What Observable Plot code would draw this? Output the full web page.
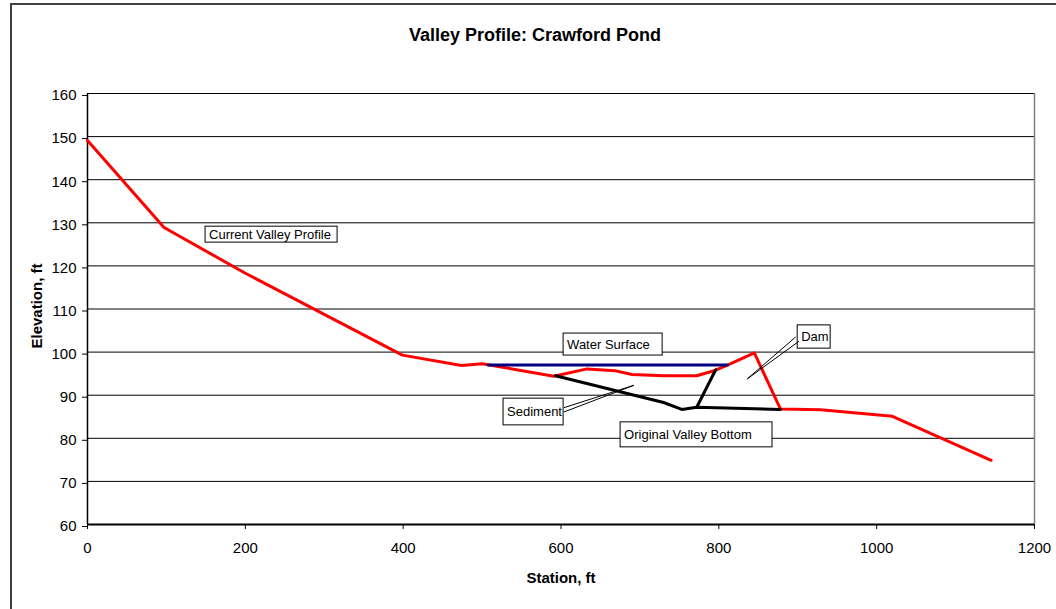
<!DOCTYPE html>
<html>
<head>
<meta charset="utf-8">
<script src="https://cdn.jsdelivr.net/npm/d3@7"></script>
<script src="https://cdn.jsdelivr.net/npm/@observablehq/plot@0.6"></script>
<style>
html, body { margin: 0; padding: 0; background: #fff; }
#wrap { position: relative; width: 1056px; height: 609px; overflow: hidden; font-family: "Liberation Sans", Arial, sans-serif; }
#frame { position: absolute; left: 10px; top: 3px; width: 1200px; height: 800px; border: 2px solid #404040; box-sizing: border-box; }
#title { position: absolute; left: 0; top: 25px; width: 1070px; text-align: center; font-weight: bold; font-size: 18px; line-height: 20px; color: #000; }
#chart { position: absolute; left: 0; top: 60px; }
</style>
</head>
<body>
<div id="wrap">
  <div id="frame"></div>
  <div id="title">Valley Profile: Crawford Pond</div>
  <div id="chart"></div>
</div>
<script>
// Current valley profile (red)
const currentStation = [0, 97, 200, 399, 474, 500, 591, 633, 668, 690, 730, 772, 796, 811, 845, 878, 929, 1020, 1145];
const currentElev    = [149.1, 128.9, 118.3, 99.3, 96.9, 97.3, 94.4, 96.1, 95.7, 94.8, 94.5, 94.5, 95.8, 97.0, 99.8, 86.8, 86.6, 85.1, 74.9];

// Water surface (navy)
const waterStation = [508, 811];
const waterElev    = [97.0, 97.0];

// Original valley bottom (black)
const bottomStation = [593, 730, 753, 772, 878];
const bottomElev    = [94.5, 88.3, 86.7, 87.2, 86.7];

// Dam upstream face (black)
const damStation = [772, 796];
const damElev    = [87.2, 95.9];

// Axis ticks
const xTicks = [0, 200, 400, 600, 800, 1000, 1200];
const yTicks = [60, 70, 80, 90, 100, 110, 120, 130, 140, 150, 160];
const yGrid  = [70, 80, 90, 100, 110, 120, 130, 140, 150, 160];

// Annotation boxes (data space)
const annText = ["Current Valley Profile", "Water Surface", "Dam", "Sediment", "Original Valley Bottom"];
const annX1 = [149.6, 603.3, 899.9, 527.2, 675.5];
const annX2 = [316.9, 728.8, 941.7, 603.3, 868.0];
const annY1 = [125.4, 99.2, 100.8, 83.0, 77.9];
const annY2 = [129.1, 104.3, 106.2, 89.2, 83.7];

// Callout leaders (data space)
const leadX1 = [897.3, 901.5, 603.7, 603.7];
const leadY1 = [103.5, 102.5, 87.1, 86.1];
const leadX2 = [836.1, 836.1, 692.4, 692.4];
const leadY2 = [93.8, 93.8, 92.3, 92.3];

const toPts = (xs, ys) => xs.map((x, i) => ({x, y: ys[i]}));
const current = toPts(currentStation, currentElev);
const water = toPts(waterStation, waterElev);
const bottom = toPts(bottomStation, bottomElev);
const dam = toPts(damStation, damElev);
const ann = annText.map((t, i) => ({t, x1: annX1[i], x2: annX2[i], y1: annY1[i], y2: annY2[i], ym: (annY1[i] + annY2[i]) / 2}));
const leads = leadX1.map((x, i) => ({x1: x, y1: leadY1[i], x2: leadX2[i], y2: leadY2[i]}));

const plot = Plot.plot({
  width: 1056,
  height: 549,
  marginTop: 33,
  marginBottom: 85,
  marginLeft: 87,
  marginRight: 22,
  style: {fontFamily: "'Liberation Sans', Arial, sans-serif", fontSize: "15px", color: "#000", background: "transparent"},
  x: {domain: [0, 1200]},
  y: {domain: [60, 160]},
  marks: [
    Plot.ruleY(yGrid, {stroke: "#000", strokeWidth: 1}),
    Plot.ruleX([1200], {stroke: "#808080", strokeWidth: 1.5}),
    Plot.axisX({ticks: xTicks, tickSize: 5, tickPadding: 13, tickFormat: d => String(d), label: null, fontSize: 15, stroke: "#000", strokeOpacity: 1}),
    Plot.axisY({ticks: yTicks, tickSize: 5, tickPadding: 6, tickFormat: d => String(d), label: null, fontSize: 15, dy: 2, stroke: "#000", strokeOpacity: 1}),
    Plot.ruleX([0], {stroke: "#000", strokeWidth: 1.5}),
    Plot.ruleY([60], {stroke: "#000", strokeWidth: 2}),
    Plot.line(current, {x: "x", y: "y", stroke: "#ff0000", strokeWidth: 3, strokeLinejoin: "round"}),
    Plot.line(water, {x: "x", y: "y", stroke: "#000080", strokeWidth: 3}),
    Plot.line(bottom, {x: "x", y: "y", stroke: "#000", strokeWidth: 3, strokeLinejoin: "round"}),
    Plot.line(dam, {x: "x", y: "y", stroke: "#000", strokeWidth: 3}),
    Plot.rect(ann, {x1: "x1", x2: "x2", y1: "y1", y2: "y2", fill: "#fff", stroke: "#000", strokeWidth: 1}),
    Plot.text(ann, {x: "x1", y: "ym", text: "t", textAnchor: "start", lineAnchor: "middle", dx: 3.5, fontSize: 13, fill: "#000"}),
    Plot.link(leads, {x1: "x1", y1: "y1", x2: "x2", y2: "y2", stroke: "#000", strokeWidth: 1}),
    Plot.text(["Station, ft"], {frameAnchor: "bottom", dy: 54, textAnchor: "middle", lineAnchor: "middle", fontWeight: "bold", fontSize: 15, fill: "#000"}),
    Plot.text(["Elevation, ft"], {frameAnchor: "left", dx: -50, dy: -3, rotate: -90, textAnchor: "middle", lineAnchor: "middle", fontWeight: "bold", fontSize: 15, fill: "#000"})
  ]
});
document.getElementById("chart").appendChild(plot);
</script>
</body>
</html>
